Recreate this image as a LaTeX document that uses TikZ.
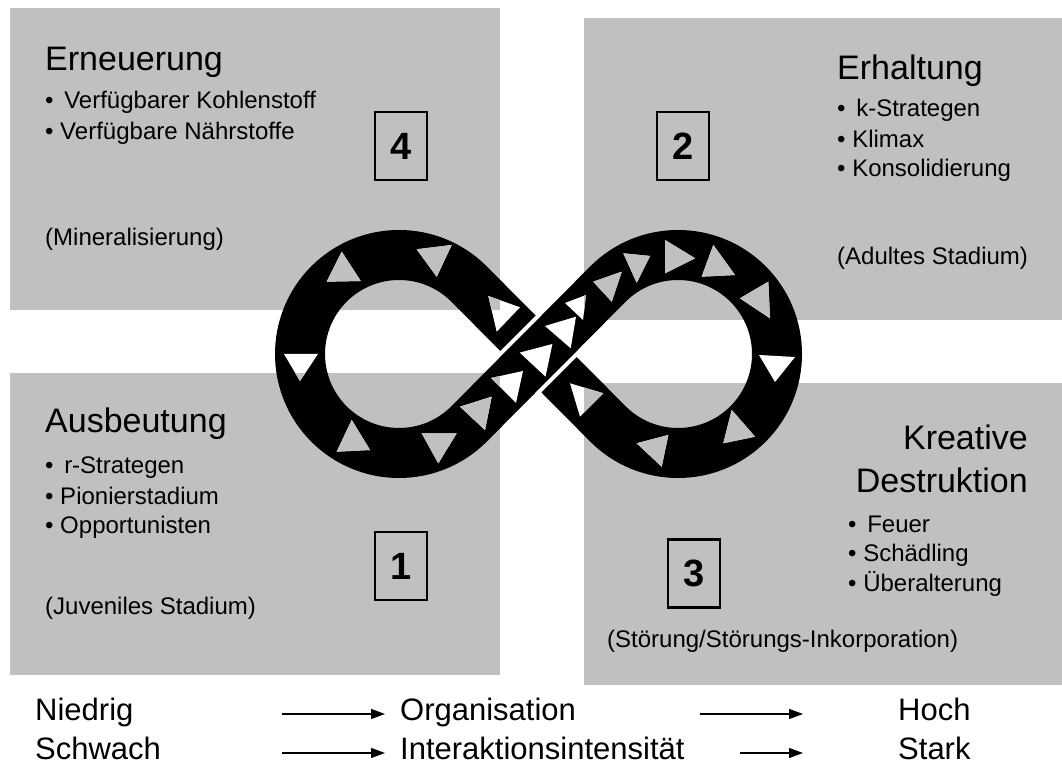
\documentclass[tikz,border=0pt]{standalone}
\usepackage{fontspec}
\setmainfont{Liberation Sans}
\usetikzlibrary{calc,arrows.meta}
\definecolor{feld}{RGB}{192,192,192}
\newcommand{\felder}{%
  \fill[feld] (10,457) rectangle (500,759);
  \fill[feld] (584,447) rectangle (1062,749);
  \fill[feld] (10,92) rectangle (500,394);
  \fill[feld] (584,82) rectangle (1062,384);
}

\begin{document}
\begin{tikzpicture}[x=1pt,y=1pt]
\tikzstyle{every node} = [inner sep=0pt, anchor=base west];
\tikzstyle{titel} = [font=\fontsize{34}{40}\selectfont];
\tikzstyle{punkt} = [font=\fontsize{24}{30}\selectfont];
\tikzstyle{nummer} = [draw, line width=2.5pt, anchor=center, minimum width=52pt, minimum height=68pt, font=\fontsize{38}{40}\selectfont\bfseries];
\tikzstyle{achse} = [font=\fontsize{31}{36}\selectfont];
\tikzstyle{pfeil} = [line width=1.4pt, -{Triangle[length=14pt,width=10pt]}];
\useasboundingbox (0,0) rectangle (1062,767);
\felder
% Schleife
\coordinate (L) at (399,413);
\coordinate (R) at (678,413);
\coordinate (C) at (538.5,413);
\draw[line width=50pt] ($(L)+(-45:99)$) -- ($(R)+(135:99)$)
  arc[start angle=135, end angle=-135, radius=99] -- ($(L)+(45:99)$)
  arc[start angle=45, end angle=315, radius=99] -- cycle;
\draw[white, line width=58pt] ($(C)+(225:30)$) -- ($(C)+(45:30)$);
\draw[line width=50pt] ($(C)+(225:31)$) -- ($(C)+(45:31)$);
% Dreiecke (Loecher)
\begin{scope}
\clip (341.7,515.3) -- (326.7,485.3) -- (360.7,486) -- cycle
  (416.7,517.7) -- (451.7,522) -- (436.7,490.3) -- cycle
  (488.3,471) -- (520,459.7) -- (496.7,435.3) -- cycle
  (284,413) -- (318,413) -- (300,386) -- cycle
  (336.7,315.3) -- (351.7,347) -- (370,317) -- cycle
  (421.7,333.7) -- (456.7,333.7) -- (438.3,303.7) -- cycle
  (460,360.3) -- (491.7,370.3) -- (485,337) -- cycle
  (491,389) -- (523,396) -- (516,364) -- cycle
  (519.7,414.4) -- (552.4,423) -- (545.5,390.3) -- cycle
  (545,441) -- (576,450.3) -- (570.7,418.7) -- cycle
  (565,464) -- (586,472) -- (583,447) -- cycle
  (593.3,485.3) -- (621.7,495.3) -- (611.7,465.3) -- cycle
  (623.3,513.7) -- (650,511) -- (636.7,484.3) -- cycle
  (665,527) -- (695,508.7) -- (665,493.7) -- cycle
  (713.3,522) -- (735,492) -- (701.7,490.3) -- cycle
  (740,468.7) -- (768.3,485.3) -- (770,448.7) -- cycle
  (759,412) -- (795,410) -- (775,385) -- cycle
  (731.7,357) -- (755,330.3) -- (723.3,323.7) -- cycle
  (636.7,323.7) -- (668.3,332) -- (661.7,300.3) -- cycle
  (570,383.7) -- (603.3,373.7) -- (580,350.3) -- cycle;
\fill[white] (260,270) rectangle (820,560);
\felder
\end{scope}
% Felder
\node[titel] (ern) at (45,696.5) {Erneuerung};
\node[punkt] (ern1) at (45,658.5) {•\hspace{4pt} Verfügbarer Kohlenstoff};
\node[punkt] (ern2) at (45,627.5) {• Verfügbare Nährstoffe};
\node[punkt] (ern3) at (45,521) {(Mineralisierung)};
\node[nummer] (n4) at (401,621) {4};
\node[titel] (erh) at (837,687) {Erhaltung};
\node[punkt] (erh1) at (837,650) {•\hspace{4pt} k-Strategen};
\node[punkt] (erh2) at (837,619) {• Klimax};
\node[punkt] (erh3) at (837,590) {• Konsolidierung};
\node[punkt] (erh4) at (837,502) {(Adultes Stadium)};
\node[nummer] (n2) at (683,621) {2};
\node[titel] (aus) at (45,334) {Ausbeutung};
\node[punkt] (aus1) at (45,293) {•\hspace{4pt} r-Strategen};
\node[punkt] (aus2) at (45,262) {• Pionierstadium};
\node[punkt] (aus3) at (45,233) {• Opportunisten};
\node[punkt] (aus4) at (45,152) {(Juveniles Stadium)};
\node[nummer] (n1) at (401,201) {1};
\node[titel, anchor=base east] (kre) at (1028,317) {Kreative};
\node[titel, anchor=base east] (des) at (1028,274) {Destruktion};
\node[punkt] (des1) at (848,234) {•\hspace{4pt} Feuer};
\node[punkt] (des2) at (848,205) {• Schädling};
\node[punkt] (des3) at (848,175) {• Überalterung};
\node[punkt] (des4) at (607,119) {(Störung/Störungs-Inkorporation)};
\node[nummer] (n3) at (694,193.5) {3};
% Achsen
\node[achse] (niedrig) at (35,46) {Niedrig};
\node[achse] (schwach) at (35,7) {Schwach};
\node[achse] (org) at (400,46) {Organisation};
\node[achse] (inter) at (400,7) {Interaktionsintensität};
\node[achse] (hoch) at (898,46) {Hoch};
\node[achse] (stark) at (898,7) {Stark};
\coordinate (a1) at (282,53);
\coordinate (b1) at (385,53);
\coordinate (a2) at (282,14);
\coordinate (b2) at (385,14);
\coordinate (a3) at (700,53);
\coordinate (b3) at (803,53);
\coordinate (a4) at (740,14);
\coordinate (b4) at (803,14);
\draw[pfeil] (a1) -- (b1);
\draw[pfeil] (a2) -- (b2);
\draw[pfeil] (a3) -- (b3);
\draw[pfeil] (a4) -- (b4);
\end{tikzpicture}
\end{document}
